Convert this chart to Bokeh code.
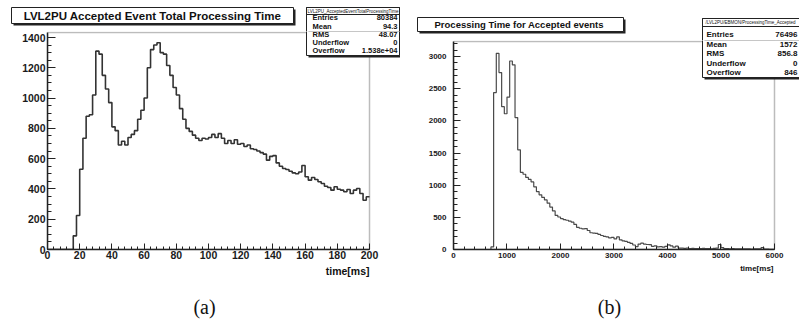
from bokeh.plotting import figure
from bokeh.models import Range1d, SingleIntervalTicker, LinearAxis, BoxAnnotation, Label
from bokeh.layouts import row, column
from bokeh.embed import file_html
from bokeh.resources import INLINE
import numpy as np

# ---------------- data ----------------
a_title = "LVL2PU Accepted Event Total Processing Time"
a_hist_name = "LVL2PU_AcceptedEventTotalProcessingTime"
a_bin_width = 2  # ms
a_counts = [0, 0, 0, 0, 0, 0, 0, 0, 90, 225,
            530, 735, 880, 890, 1020, 1310, 1290, 1150, 1060, 970,
            810, 785, 690, 715, 690, 740, 760, 785, 860, 920,
            1000, 1200, 1320, 1350, 1365, 1300, 1290, 1215, 1150, 1070,
            1020, 930, 860, 800, 780, 755, 735, 720, 735, 730,
            740, 760, 740, 765, 735, 700, 720, 700, 725, 695,
            700, 680, 690, 665, 660, 650, 640, 630, 590, 615,
            620, 572, 550, 535, 528, 517, 506, 500, 512, 555,
            480, 458, 475, 462, 447, 436, 418, 409, 392, 414,
            398, 392, 381, 396, 370, 392, 403, 370, 325, 348]
a_x_max = 200
a_y_max = 1433
a_stats_names = ["Entries", "Mean", "RMS", "Underflow", "Overflow"]
a_stats_values = ["80384", "94.3", "48.07", "0", "1.538e+04"]

b_title = "Processing Time for Accepted  events"
b_hist_name = "/LVL2PU/EBMON/ProcessingTime_Accepted"
b_bin_width = 50  # ms
b_counts = [0, 0, 0, 0, 0, 0, 0, 0, 0, 0,
            0, 0, 0, 0, 40, 2440, 3050, 2750, 2220, 2110,
            2370, 2930, 2870, 2050, 1550, 1200, 1170, 1120, 1090, 1050,
            975, 900, 850, 810, 770, 720, 660, 600, 530, 505,
            480, 465, 455, 440, 425, 390, 345, 330, 320, 325,
            295, 260, 255, 250, 235, 218, 205, 195, 180, 190,
            165, 195, 150, 135, 125, 112, 95, 70, 45, 85,
            98, 85, 78, 75, 50, 57, 40, 45, 36, 50,
            72, 55, 36, 52, 22, 20, 18, 20, 15, 16,
            14, 15, 13, 16, 14, 15, 12, 16, 20, 78,
            30, 14, 15, 12, 14, 11, 10, 12, 9, 10,
            11, 8, 10, 9, 12, 30, 8, 5, 4, 3]
b_x_max = 6000
b_y_max = 3233
b_stats_names = ["Entries", "Mean", "RMS", "Underflow", "Overflow"]
b_stats_values = ["76496", "1572", "856.8", "0", "846"]

FONT = "Liberation Sans"
INK = "#222222"


def no_align(p):
    try:
        p.frame_align = False
    except Exception:
        pass


def style_axis(ax, size, tick_in, minor_in, standoff):
    ax.axis_line_width = 1.5
    ax.axis_line_color = INK
    ax.major_tick_in = tick_in
    ax.major_tick_out = 0
    ax.minor_tick_in = minor_in
    ax.minor_tick_out = 0
    ax.major_tick_line_color = INK
    ax.minor_tick_line_color = INK
    ax.major_label_text_font = FONT
    ax.major_label_text_font_style = "bold"
    ax.major_label_text_font_size = size
    ax.major_label_text_color = "#1a1a1a"
    ax.major_label_standoff = standoff


def box(p, l, r, b, t, fill="white", line=INK, lw=1.0, level="overlay"):
    p.add_layout(BoxAnnotation(left=l, right=r, bottom=b, top=t,
                               left_units="screen", right_units="screen",
                               bottom_units="screen", top_units="screen",
                               fill_color=fill if fill else "white", fill_alpha=1.0 if fill else 0.0,
                               line_color=line if line else "white", line_width=lw,
                               line_alpha=1.0 if line else 0.0, level=level))


def text(p, x, y, s, size, align="left", style="bold", font=FONT, color="#111111"):
    p.add_layout(Label(x=x, y=y, x_units="screen", y_units="screen", text=s,
                       text_font=font, text_font_size=size, text_font_style=style,
                       text_align=align, text_baseline="middle", text_color=color,
                       level="overlay"))


def blank_fig(width, height):
    p = figure(width=width, height=height, x_range=Range1d(0, width), y_range=Range1d(0, height),
               x_axis_type=None, y_axis_type=None, output_backend="svg", toolbar_location=None,
               min_border=0, min_border_left=0, min_border_right=0, min_border_top=0,
               min_border_bottom=0, outline_line_color=None, background_fill_color="white",
               border_fill_color="white")
    p.grid.visible = False
    no_align(p)
    return p


def main_fig(width, height, left, bottom, xr, yr):
    p = figure(width=width, height=height, x_range=Range1d(*xr), y_range=Range1d(*yr),
               x_axis_type=None, y_axis_type=None, output_backend="svg", toolbar_location=None,
               min_border_left=left, min_border_right=0, min_border_top=0,
               min_border_bottom=bottom, outline_line_color=None,
               background_fill_color="white", border_fill_color="white")
    p.grid.visible = False
    no_align(p)
    return p


# ================= panel (a) =================
ha = blank_fig(400, 31)
box(ha, 13, 295, 6, 22, fill=INK, line=None)           # title shadow
box(ha, 11, 293, 8, 24)                                  # title box
text(ha, 152, 16, a_title, "11.5px", align="center")
box(ha, 308, 401, -3, 22, fill=INK, line=None)         # stats shadow (upper part)
box(ha, 306, 399, -3, 24)                                # stats box (upper part)
box(ha, 306, 399, 17, 24, fill=None)                     # stats header row
text(ha, 352.5, 20.5, a_hist_name, "4.5px", align="center", style="normal")
for n, v, y in zip(a_stats_names[:2], a_stats_values[:2], [13.7, 5.3]):
    text(ha, 312, y, n, "7.5px")
    text(ha, 397, y, v, "7.5px", align="right")

ma = main_fig(400, 232, 47, 14, (0, 219.25), (0, 1439.6))
a_edges = np.arange(len(a_counts) + 1) * a_bin_width
ma.add_layout(BoxAnnotation(left=0, right=a_x_max, bottom=0, top=a_y_max, fill_alpha=0,
                            line_color=INK, line_width=1.5, level="underlay"))
ma.step(x=a_edges, y=a_counts + [a_counts[-1]], mode="after", line_color="#333333", line_width=1.6)
xa = LinearAxis(ticker=SingleIntervalTicker(interval=20, num_minor_ticks=5), bounds=(0, a_x_max))
ya = LinearAxis(ticker=SingleIntervalTicker(interval=200, num_minor_ticks=4), bounds=(0, a_y_max))
style_axis(xa, "10.5px", 6, 3, 1)
style_axis(ya, "10.5px", 8, 4, 2)
ma.add_layout(xa, "below")
ma.add_layout(ya, "left")
box(ma, 261, 354, 192, 225, fill=INK, line=None)       # stats shadow (lower part)
box(ma, 259, 352, 194, 225)                              # stats box (lower part)
for n, v, y in zip(a_stats_names[2:], a_stats_values[2:], [215, 207.3, 199]):
    text(ma, 265, y, n, "7.5px")
    text(ma, 350, y, v, "7.5px", align="right")

fa = blank_fig(400, 57)
text(fa, 369, 50, "time[ms]", "10.5px", align="right")
text(fa, 204, 14, "(a)", "20px", align="center", style="normal", font="Liberation Serif")

# ================= panel (b) =================
hb = blank_fig(399, 40)
box(hb, 19, 225, 7, 21, fill=INK, line=None)
box(hb, 17, 223, 9, 23)
text(hb, 120, 16, b_title, "9.5px", align="center")
box(hb, 304, 410, -3, 20, fill=INK, line=None)
box(hb, 302, 408, -3, 22)
box(hb, 302, 408, 14, 22, fill=None)
text(hb, 350, 18, b_hist_name, "4.5px", align="center", style="normal")
text(hb, 306, 6, b_stats_names[0], "8px")
text(hb, 397, 6, b_stats_values[0], "8px", align="right")

mb = main_fig(399, 223, 53, 14, (0, 6467.3), (0, 3248.8))
b_edges = np.arange(len(b_counts) + 1) * b_bin_width
mb.add_layout(BoxAnnotation(left=0, right=b_x_max, bottom=0, top=b_y_max, fill_alpha=0,
                            line_color=INK, line_width=1.5, level="underlay"))
mb.step(x=b_edges, y=b_counts + [b_counts[-1]], mode="after", line_color="#4a4a4a", line_width=1.2)
xb = LinearAxis(ticker=SingleIntervalTicker(interval=1000, num_minor_ticks=5), bounds=(0, b_x_max))
yb = LinearAxis(ticker=SingleIntervalTicker(interval=500, num_minor_ticks=5), bounds=(0, b_y_max))
style_axis(xb, "8px", 6, 3, 3)
style_axis(yb, "8px", 7, 4, 7)
mb.add_layout(xb, "below")
mb.add_layout(yb, "left")
box(mb, 251, 362, 170, 215, fill=INK, line=None)
box(mb, 249, 360, 172, 215)
for n, v, y in zip(b_stats_names[1:], b_stats_values[1:], [205, 196, 186.3, 177]):
    text(mb, 253, y, n, "8px")
    text(mb, 344, y, v, "8px", align="right")

fb = blank_fig(399, 57)
text(fb, 373, 52, "time[ms]", "8px", align="right")
text(fb, 209, 14, "(b)", "20px", align="center", style="normal", font="Liberation Serif")

layout = row(column(ha, ma, fa), column(hb, mb, fb))
open("out.html", "w").write(file_html(layout, INLINE))
